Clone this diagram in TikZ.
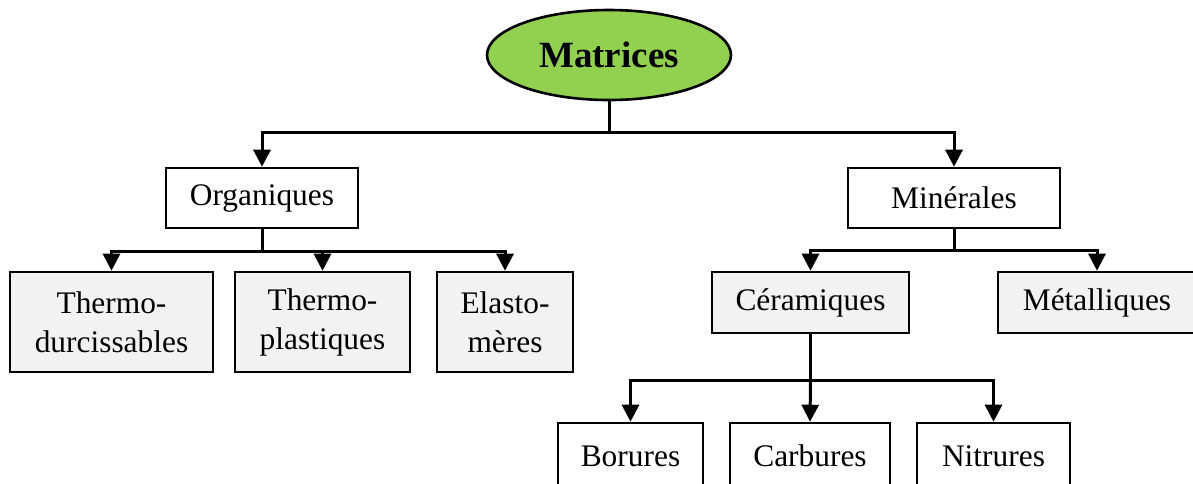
\documentclass[tikz,border=0pt]{standalone}
\usepackage{fontspec}
\setmainfont{Liberation Serif}
\usetikzlibrary{arrows.meta,shapes.geometric}
\definecolor{matgreen}{HTML}{92D050}
\definecolor{boxgray}{HTML}{F2F2F2}

\begin{document}
\begin{tikzpicture}[x=0.5pt,y=-0.5pt,>={Triangle[length=8.5pt,width=8.5pt]},line width=1.5pt,
  root node/.style={ellipse,draw,fill=matgreen,line width=1.3pt,inner sep=0pt,minimum width=122pt,minimum height=45pt,font=\fontsize{18.5}{22}\selectfont\bfseries},
  main node/.style={draw,fill=white,line width=1.3pt,inner sep=0pt,minimum height=30pt,align=center,font=\fontsize{15.7}{19.5}\selectfont},
  grey node/.style={main node,fill=boxgray}]
  \useasboundingbox (0,0) rectangle (1193,483);

  \node[root node] (mat) at (609,55) {Matrices};

  \node[main node,minimum width=96pt] (org) at (262,198) {Organiques};
  \node[main node,minimum width=106pt] (min) at (954,198) {Minérales};

  \node[grey node,minimum width=101.5pt,minimum height=50pt] (thd) at (111.5,322) {Thermo-\\durcissables};
  \node[grey node,minimum width=87.5pt,minimum height=50pt] (thp) at (322.5,322) {Thermo-\\plastiques};
  \node[grey node,minimum width=68pt,minimum height=50pt] (ela) at (505,322) {Elasto-\\mères};

  \node[grey node,minimum width=98.5pt,minimum height=30.5pt] (cer) at (810.5,302.5) {Céramiques};
  \node[grey node,minimum width=99pt,minimum height=30.5pt] (met) at (1097,302.5) {Métalliques};

  \node[main node,minimum width=72.5pt,minimum height=33pt] (bor) at (630.5,456) {Borures};
  \node[main node,minimum width=80pt,minimum height=33pt] (car) at (810,456) {Carbures};
  \node[main node,minimum width=76.5pt,minimum height=33pt] (nit) at (993.5,456) {Nitrures};

  % junctions
  \coordinate (j0) at (mat.south |- 0,132);
  \coordinate (j1) at (org.south |- 0,251);
  \coordinate (j2) at (min.south |- 0,250);
  \coordinate (j3) at (cer.south |- 0,380);

  \draw (mat.south) -- (j0);
  \draw[->] (j0) -| (org.north);
  \draw[->] (j0) -| (min.north);

  \draw (org.south) -- (j1);
  \draw[->] (j1) -| (thd.north);
  \draw[->] (j1) -| (thp.north);
  \draw[->] (j1) -| (ela.north);

  \draw (min.south) -- (j2);
  \draw[->] (j2) -| (cer.north);
  \draw[->] (j2) -| (met.north);

  \draw (cer.south) -- (j3);
  \draw[->] (j3) -| (bor.north);
  \draw[->] (j3) -- (car.north);
  \draw[->] (j3) -| (nit.north);
\end{tikzpicture}
\end{document}
